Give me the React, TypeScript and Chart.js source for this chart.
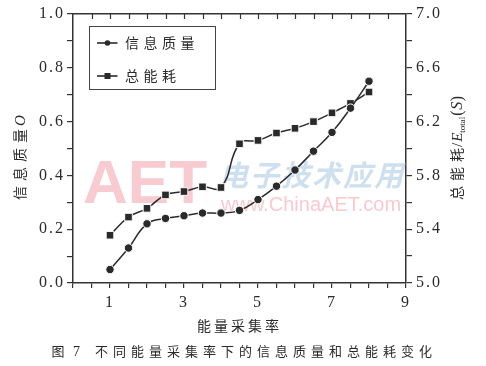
import React, { useEffect, useRef } from "react";
import { Chart, registerables } from "chart.js";

Chart.register(...registerables);

// ---- data ----
const collectionRates = [1, 1.5, 2, 2.5, 3, 3.5, 4, 4.5, 5, 5.5, 6, 6.5, 7, 7.5, 8];
const infoQuality = [0.05, 0.13, 0.22, 0.24, 0.25, 0.26, 0.26, 0.27, 0.31, 0.36, 0.42, 0.49, 0.56, 0.65, 0.75];
const totalEnergy = [5.355, 5.49, 5.555, 5.655, 5.68, 5.715, 5.71, 6.035, 6.06, 6.115, 6.15, 6.2, 6.265, 6.335, 6.42];
const xTickLabels = [1, 3, 5, 7, 9];
const leftTickLabels = [0, 0.2, 0.4, 0.6, 0.8, 1.0];
const rightTickLabels = [5.0, 5.4, 5.8, 6.2, 6.6, 7.0];
const seriesNames = ["信息质量", "总能耗"];
const xTitle = "能量采集率";
const captionHead = "图";
const captionNum = "7";
const captionBody = "不同能量采集率下的信息质量和总能耗变化";

const INK = "#2a2a2a";
const AXIS = "#333333";
const SERIF = "'Liberation Serif', 'DejaVu Serif', serif";
const CJK = "'Noto Sans CJK SC', 'Noto Sans', sans-serif";

const near = (list: number[], v: number) => list.some((t) => Math.abs(t - v) < 1e-6);

type Part = { text: string; font: string; ls?: number; dv?: number; after?: number };

function drawRun(ctx: CanvasRenderingContext2D, parts: Part[], startU: number) {
  let u = startU;
  for (const p of parts) {
    ctx.font = p.font;
    (ctx as any).letterSpacing = (p.ls || 0) + "px";
    ctx.fillText(p.text, u, p.dv || 0);
    u += ctx.measureText(p.text).width + (p.after || 0);
  }
  (ctx as any).letterSpacing = "0px";
}

const decorPlugin = {
  id: "decor",
  beforeDraw(chart: any) {
    (chart.ctx as any).letterSpacing = "2px";
  },
  beforeDatasetsDraw(chart: any) {
    const ctx: CanvasRenderingContext2D = chart.ctx;
    const a = chart.chartArea;
    ctx.save();
    (ctx as any).letterSpacing = "0px";
    ctx.textBaseline = "alphabetic";
    // watermark
    ctx.fillStyle = "rgba(243,160,170,0.55)";
    ctx.font = "bold 62px 'Liberation Sans', Arial, sans-serif";
    ctx.fillText("AET", a.left + 10, a.top + 189);
    ctx.fillStyle = "rgba(165,198,225,0.55)";
    ctx.font = "bold italic 29px " + CJK;
    (ctx as any).letterSpacing = "2px";
    ctx.fillText("电子技术应用", a.left + 146, a.top + 172);
    (ctx as any).letterSpacing = "0px";
    ctx.fillStyle = "rgba(245,165,175,0.6)";
    ctx.font = "20px 'Liberation Sans', Arial, sans-serif";
    ctx.fillText("www.ChinaAET.com", a.left + 148, a.top + 197);
    ctx.restore();
  },
  afterDraw(chart: any) {
    const ctx: CanvasRenderingContext2D = chart.ctx;
    const a = chart.chartArea;
    const x2 = chart.scales.x2;
    ctx.save();
    (ctx as any).letterSpacing = "0px";
    // inward ticks on the top axis
    ctx.strokeStyle = AXIS;
    ctx.lineWidth = 1.2;
    ctx.beginPath();
    for (let v = 0.5; v < 9; v += 0.5) {
      const px = Math.round(x2.getPixelForValue(v)) + 0.5;
      ctx.moveTo(px, a.top);
      ctx.lineTo(px, a.top + 5);
    }
    ctx.stroke();

    // legend
    const lx = a.left + 16.5;
    const ly = a.top + 12.5;
    ctx.strokeStyle = "#444";
    ctx.lineWidth = 1;
    ctx.strokeRect(lx, ly, 126, 63);
    chart.data.datasets.forEach((ds: any, i: number) => {
      const cy = ly + 16.5 + i * 33;
      ctx.strokeStyle = ds.borderColor;
      ctx.lineWidth = 1.6;
      ctx.beginPath();
      ctx.moveTo(lx + 7.5, cy);
      ctx.lineTo(lx + 28, cy);
      ctx.stroke();
      ctx.fillStyle = ds.backgroundColor;
      const mx = lx + 18;
      if (ds.pointStyle === "rect") {
        ctx.fillRect(mx - 3, cy - 3, 6, 6);
      } else {
        ctx.beginPath();
        ctx.arc(mx, cy, 2.8, 0, Math.PI * 2);
        ctx.fill();
      }
      ctx.fillStyle = INK;
      ctx.font = "14px " + CJK;
      (ctx as any).letterSpacing = "4.5px";
      ctx.textBaseline = "middle";
      ctx.fillText(ds.label, lx + 35.5, cy);
      (ctx as any).letterSpacing = "0px";
    });

    // axis titles
    ctx.fillStyle = INK;
    ctx.textBaseline = "alphabetic";
    // left
    ctx.save();
    ctx.translate(25, a.top + 186);
    ctx.rotate(-Math.PI / 2);
    drawRun(
      ctx,
      [
        { text: "信息质量", font: "14px " + CJK, ls: 5, after: -2 },
        { text: "O", font: "italic 15px " + SERIF, dv: 0 },
      ],
      0
    );
    ctx.restore();
    // right
    ctx.save();
    ctx.translate(461.5, a.top + 186);
    ctx.rotate(-Math.PI / 2);
    drawRun(
      ctx,
      [
        { text: "总能耗", font: "14px " + CJK, ls: 5, after: -4 },
        { text: "/", font: "15px " + SERIF, after: 1 },
        { text: "E", font: "italic 15px " + SERIF },
        { text: "total", font: "9px " + SERIF, dv: 3, after: 1 },
        { text: "(", font: "16px " + SERIF, after: 0.5 },
        { text: "S", font: "italic 16px " + SERIF, after: 0.5 },
        { text: ")", font: "16px " + SERIF },
      ],
      0
    );
    ctx.restore();

    // x title
    ctx.textBaseline = "middle";
    ctx.font = "14px " + CJK;
    (ctx as any).letterSpacing = "3px";
    ctx.fillText(xTitle, 197, 326);
    // caption
    ctx.font = "13px " + CJK;
    (ctx as any).letterSpacing = "0px";
    ctx.fillText(captionHead, 51.5, 351.5);
    ctx.font = "14px " + SERIF;
    ctx.fillText(captionNum, 73, 352);
    ctx.font = "13px " + CJK;
    (ctx as any).letterSpacing = "5px";
    ctx.fillText(captionBody, 95, 351.5);
    ctx.restore();
  },
};

export default function App() {
  const ref = useRef<HTMLCanvasElement | null>(null);

  useEffect(() => {
    if (!ref.current) return;
    const tickFont = { family: SERIF, size: 16 };
    const chart = new Chart(ref.current, {
      type: "line",
      data: {
        datasets: [
          {
            label: seriesNames[0],
            data: collectionRates.map((x, i) => ({ x, y: infoQuality[i] })),
            yAxisID: "y",
            xAxisID: "x",
            borderColor: INK,
            backgroundColor: INK,
            borderWidth: 1.5,
            pointStyle: "circle",
            pointRadius: 4.2,
            pointBorderColor: "#ffffff",
            pointBorderWidth: 1,
            pointBackgroundColor: INK,
            tension: 0.45,
            cubicInterpolationMode: "default",
          },
          {
            label: seriesNames[1],
            data: collectionRates.map((x, i) => ({ x, y: totalEnergy[i] })),
            yAxisID: "y2",
            xAxisID: "x",
            borderColor: INK,
            backgroundColor: INK,
            borderWidth: 1.5,
            pointStyle: "rect",
            pointRadius: 5.4,
            pointBorderColor: "#ffffff",
            pointBorderWidth: 1,
            pointBackgroundColor: INK,
            tension: 0.45,
            cubicInterpolationMode: "default",
          },
        ],
      },
      options: {
        responsive: false,
        animation: false,
        devicePixelRatio: 1,
        layout: { padding: 0 },
        plugins: { legend: { display: false }, tooltip: { enabled: false } },
        scales: {
          x: {
            type: "linear",
            position: "bottom",
            min: 0,
            max: 9,
            ticks: {
              stepSize: 0.5,
              autoSkip: false,
              maxRotation: 0,
              font: tickFont,
              color: INK,
              padding: 5,
              callback: (v: any) => (near(xTickLabels, Number(v)) ? String(Math.round(Number(v))) : ""),
            },
            grid: { drawOnChartArea: false, tickLength: 5, color: AXIS, lineWidth: 1.2 },
            border: { display: true, color: AXIS, width: 1.5 },
            afterFit: (s: any) => {
              s.height = 83;
            },
          },
          x2: {
            type: "linear",
            position: "top",
            min: 0,
            max: 9,
            ticks: { display: false, stepSize: 0.5 },
            grid: { drawOnChartArea: false, drawTicks: false, color: AXIS, lineWidth: 1.2 },
            border: { display: true, color: AXIS, width: 1.5 },
            afterFit: (s: any) => {
              s.height = 14;
            },
          },
          y: {
            type: "linear",
            position: "left",
            min: 0,
            max: 1,
            ticks: {
              stepSize: 0.1,
              autoSkip: false,
              font: tickFont,
              color: INK,
              padding: 2,
              callback: (v: any) => (near(leftTickLabels, Number(v)) ? Number(v).toFixed(1) : ""),
            },
            grid: { drawOnChartArea: false, tickLength: 6, color: AXIS, lineWidth: 1.2 },
            border: { display: true, color: AXIS, width: 1.5 },
            afterFit: (s: any) => {
              s.width = 73;
            },
          },
          y2: {
            type: "linear",
            position: "right",
            min: 5,
            max: 7,
            ticks: {
              stepSize: 0.2,
              autoSkip: false,
              font: tickFont,
              color: INK,
              padding: 4,
              callback: (v: any) => (near(rightTickLabels, Number(v)) ? Number(v).toFixed(1) : ""),
            },
            grid: { drawOnChartArea: false, tickLength: 6, color: AXIS, lineWidth: 1.2 },
            border: { display: true, color: AXIS, width: 1.5 },
            afterFit: (s: any) => {
              s.width = 80;
            },
          },
        },
      } as any,
      plugins: [decorPlugin],
    });
    return () => chart.destroy();
  }, []);

  return (
    <div style={{ position: "fixed", left: 0, top: 0, width: 486, height: 366, background: "#fff" }}>
      <canvas ref={ref} width={486} height={366} style={{ display: "block", width: 486, height: 366 }} />
    </div>
  );
}
